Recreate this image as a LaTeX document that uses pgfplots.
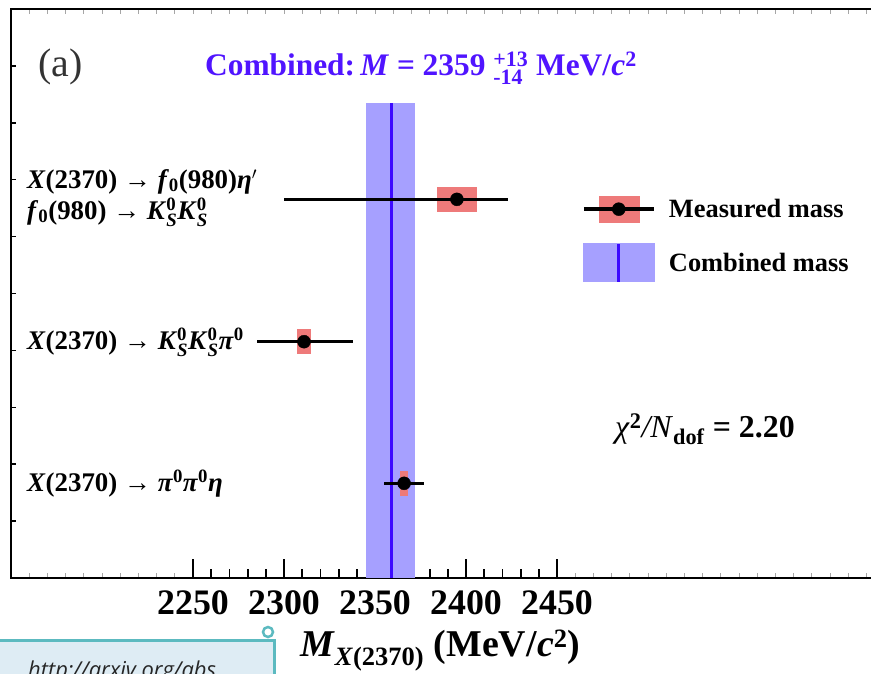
\documentclass[border=0pt]{standalone}
\usepackage{pgfplots}
\pgfplotsset{compat=1.18}
\usepackage{pgfplotstable}
\usepackage{amsmath}
\usepackage{fontspec}
\setmainfont{Liberation Serif}
\newfontfamily\notefont{Open Sans}

\definecolor{bandfill}{RGB}{166,160,255}
\definecolor{bandline}{RGB}{60,10,255}
\definecolor{titleblue}{RGB}{80,20,255}
\definecolor{sysred}{RGB}{238,122,122}
\definecolor{noteback}{RGB}{222,236,244}
\definecolor{noteedge}{RGB}{92,186,192}

\newcommand\bi[1]{\textbf{\textit{#1}}}
\newcommand\tb[1]{\textbf{#1}}
\newcommand\sm[1]{\text{\tb{#1}}}
\newcommand\KS{\bi{K}$^{\sm{0}}_{\text{\bi{S}}}$}

% measured masses (MeV/c^2), row position, statistical and systematic errors
\pgfplotstableread{
m     y      em  ep  slo shi
2395  6.655  95  28  11  11
2311  4.153  26  27  4   4
2366  1.664  11  11  2   2
}\meas

\begin{document}
\begin{tikzpicture}
% faint tick marks along the frame
\begin{axis}[
  at={(11bp,-578bp)}, anchor=south west,
  scale only axis, width=910bp, height=569bp,
  xmin=2150, xmax=2650, ymin=0, ymax=10,
  axis line style={draw=none},
  xtick={2160,2170,...,2640}, xticklabels={},
  ytick={1,...,9}, yticklabels={},
  xtick pos=both, ytick pos=left,
  major tick length=5bp,
  xtick style={black!35, line width=0.8bp},
  ytick style={black, line width=1.5bp},
]
\end{axis}

\begin{axis}[
  at={(11bp,-578bp)}, anchor=south west,
  scale only axis, width=910bp, height=569bp,
  xmin=2150, xmax=2650, ymin=0, ymax=10,
  axis line style={line width=2bp},
  xtick={2250,2300,...,2450},
  minor xtick={2260,2270,...,2440},
  ytick=\empty, xtick pos=bottom,
  major tick length=19bp, minor tick length=9bp,
  xtick style={line width=1.8bp, black},
  minor tick style={line width=1.8bp, black},
  xticklabel style={font=\fontsize{36}{36}\selectfont\bfseries, inner sep=0pt, yshift=-12bp},
  /pgf/number format/assume math mode=true,
  /pgf/number format/set thousands separator={},
  legend style={at={(0.6275,0.6714)}, anchor=north west, draw=none, fill=none,
    inner sep=0pt, outer sep=0pt, row sep=20bp,
    nodes={inner sep=0pt},
    font=\fontsize{26.5}{28}\selectfont\bfseries},
  legend cell align=left,
]
% combined mass band and central value
\addplot[fill=bandfill, draw=none, forget plot] coordinates
  {(2345,0) (2372,0) (2372,8.35) (2345,8.35)} -- cycle;
\addplot[bandline, line width=2.6bp, forget plot] coordinates {(2359,0) (2359,8.35)};
% systematic uncertainty boxes
\addplot[only marks, mark=none, forget plot,
  error bars/.cd, x dir=both, x explicit, error mark=none,
  error bar style={line width=25bp, sysred}]
  table[x=m, y=y, x error plus=shi, x error minus=slo]{\meas};
% measured values with statistical errors
\addplot[only marks, mark=*, mark size=6.5bp, black, forget plot,
  error bars/.cd, x dir=both, x explicit, error mark=none,
  error bar style={line width=3.5bp, black}]
  table[x=m, y=y, x error plus=ep, x error minus=em]{\meas};

\addlegendimage{legend image code/.code={
  \fill[sysred] (16bp,-13bp) rectangle (56bp,13bp);
  \draw[black, line width=3.5bp] (1bp,0) -- (71bp,0);
  \fill[black] (36bp,0) circle (6.5bp);
  \path (86bp,0);}}
\addlegendentry{Measured mass}
\addlegendimage{legend image code/.code={
  \fill[bandfill] (0bp,-19bp) rectangle (71bp,19bp);
  \draw[bandline, line width=2.6bp] (36bp,-19bp) -- (36bp,19bp);
  \path (86bp,0);}}
\addlegendentry{Combined mass}
\end{axis}

\begin{scope}[x=1bp, y=-1bp]
\node[anchor=base west, inner sep=0pt, text=black!80, font=\fontsize{40}{40}\selectfont] at (38,76) {(a)};
\node[anchor=base west, inner sep=0pt, text=titleblue, font=\fontsize{31.5}{32}\selectfont] at (205,75)
  {\tb{Combined:}\,\bi{M} \tb{=} \tb{2359} $^{\sm{+13}}_{\sm{-14}}$ \tb{MeV/}\bi{c}$^{\sm{2}}$};
\begin{scope}[every node/.style={anchor=base west, inner sep=0pt, font=\fontsize{27}{27}\selectfont}]
\node at (27,188) {\bi{X}\tb{(2370)} \tb{→} \bi{f}$_{\sm{0}}$\tb{(980)}\bi{η}$^{\prime}$};
\node at (27,219) {\bi{f}$_{\sm{0}}$\tb{(980)} \tb{→} \KS\KS};
\node at (27,349) {\bi{X}\tb{(2370)} \tb{→} \KS\KS\bi{π}$^{\sm{0}}$};
\node at (27,491) {\bi{X}\tb{(2370)} \tb{→} \bi{π}$^{\sm{0}}$\bi{π}$^{\sm{0}}$\bi{η}};
\end{scope}
\node[anchor=base west, inner sep=0pt, font=\fontsize{32}{32}\selectfont] at (615,437)
  {\textit{χ}$^{\sm{2}}$\textit{/N}$_{\sm{dof}}$ \tb{= 2.20}};
\node[anchor=base west, inner sep=0pt, font=\fontsize{38}{38}\selectfont] at (300,656)
  {\bi{M}$_{\text{\bi{X}\tb{(2370)}}}$ \tb{(MeV/}\bi{c}$^{\sm{2}}$\tb{)}};
% note tab in the lower left corner
\fill[noteback] (-5,640) rectangle (274,690);
\draw[noteedge, line width=3bp] (-5,640) -- (274,640) -- (274,690);
\draw[noteedge, line width=2.5bp] (268,632) circle (5);
\node[anchor=base west, inner sep=0pt, font=\notefont\itshape\fontsize{22}{22}\selectfont, text=black!85] at (28,677) {http://arxiv.org/abs};
\end{scope}

\pgfresetboundingbox
\path (0bp,0bp) rectangle (871bp,-674bp);
\end{tikzpicture}
\end{document}
